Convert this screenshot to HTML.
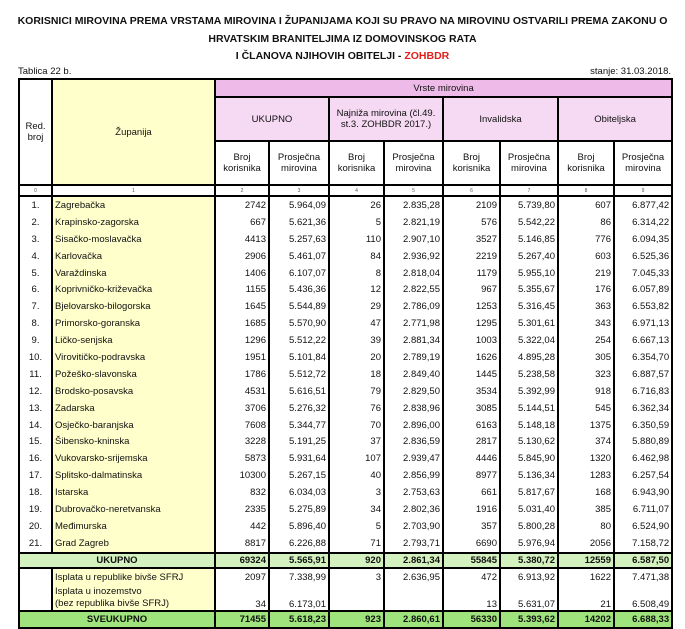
<!DOCTYPE html>
<html><head><meta charset="utf-8"><style>
body{margin:0;width:685px;height:628px;background:#fff;font-family:"Liberation Sans",sans-serif;position:relative;overflow:hidden;color:#111}
.t{position:absolute;left:0;width:685px;text-align:center;font-weight:bold;font-size:10.5px}
.s{position:absolute;font-size:9.5px}
table{position:absolute;left:18px;top:78px;width:653px;border-collapse:collapse;table-layout:fixed;font-size:9.5px}
td{border:2px solid #000;padding:0 2px;text-align:center;line-height:11px;overflow:hidden;white-space:nowrap}
tr.d td{border-top:0;border-bottom:0;text-align:right;height:16.9px;padding:0 2px}
tr.d td.n{text-align:center}
tr.d td.z{text-align:left;background:#ffffcc}
.p1{background:#eebbe9}.p2{background:#f6d9f3}
.z{background:#ffffcc}
tr.u td{background:#d4f2bf;font-weight:bold;text-align:right}
tr.v td{background:#9ee37c;font-weight:bold;text-align:right}
tr.u td.c,tr.v td.c{text-align:center}
.ix td{font-size:5px;line-height:6px;height:9px;color:#555}
</style></head><body>
<div class="t" style="top:15px">KORISNICI MIROVINA PREMA VRSTAMA MIROVINA I ŽUPANIJAMA KOJI SU PRAVO NA MIROVINU OSTVARILI PREMA ZAKONU O</div>
<div class="t" style="top:33px">HRVATSKIM BRANITELJIMA IZ DOMOVINSKOG RATA</div>
<div class="t" style="top:50px">I ČLANOVA NJIHOVIH OBITELJI - <span style="color:#e0201b">ZOHBDR</span></div>
<div class="s" style="left:18px;top:66px">Tablica 22 b.</div>
<div class="s" style="right:14px;top:66px">stanje: 31.03.2018.</div>
<table>
<colgroup><col style="width:33px"><col style="width:163px"><col style="width:54px"><col style="width:60px"><col style="width:55px"><col style="width:59px"><col style="width:57px"><col style="width:58px"><col style="width:56px"><col style="width:58px"></colgroup>
<tr style="height:18px"><td rowspan="3">Red.<br>broj</td><td rowspan="3" class="z">Županija</td><td colspan="8" class="p1">Vrste mirovina</td></tr>
<tr style="height:44px"><td colspan="2" class="p2">UKUPNO</td><td colspan="2" class="p2">Najniža mirovina (čl.49.<br>st.3. ZOHBDR 2017.)</td><td colspan="2" class="p2">Invalidska</td><td colspan="2" class="p2">Obiteljska</td></tr>
<tr style="height:44px"><td>Broj<br>korisnika</td><td>Prosječna<br>mirovina</td><td>Broj<br>korisnika</td><td>Prosječna<br>mirovina</td><td>Broj<br>korisnika</td><td>Prosječna<br>mirovina</td><td>Broj<br>korisnika</td><td>Prosječna<br>mirovina</td></tr>
<tr class="ix"><td>0</td><td>1</td><td>2</td><td>3</td><td>4</td><td>5</td><td>6</td><td>7</td><td>8</td><td>9</td></tr>
<tr class="d"><td class="n">1.</td><td class="z">Zagrebačka</td><td>2742</td><td>5.964,09</td><td>26</td><td>2.835,28</td><td>2109</td><td>5.739,80</td><td>607</td><td>6.877,42</td></tr>
<tr class="d"><td class="n">2.</td><td class="z">Krapinsko-zagorska</td><td>667</td><td>5.621,36</td><td>5</td><td>2.821,19</td><td>576</td><td>5.542,22</td><td>86</td><td>6.314,22</td></tr>
<tr class="d"><td class="n">3.</td><td class="z">Sisačko-moslavačka</td><td>4413</td><td>5.257,63</td><td>110</td><td>2.907,10</td><td>3527</td><td>5.146,85</td><td>776</td><td>6.094,35</td></tr>
<tr class="d"><td class="n">4.</td><td class="z">Karlovačka</td><td>2906</td><td>5.461,07</td><td>84</td><td>2.936,92</td><td>2219</td><td>5.267,40</td><td>603</td><td>6.525,36</td></tr>
<tr class="d"><td class="n">5.</td><td class="z">Varaždinska</td><td>1406</td><td>6.107,07</td><td>8</td><td>2.818,04</td><td>1179</td><td>5.955,10</td><td>219</td><td>7.045,33</td></tr>
<tr class="d"><td class="n">6.</td><td class="z">Koprivničko-križevačka</td><td>1155</td><td>5.436,36</td><td>12</td><td>2.822,55</td><td>967</td><td>5.355,67</td><td>176</td><td>6.057,89</td></tr>
<tr class="d"><td class="n">7.</td><td class="z">Bjelovarsko-bilogorska</td><td>1645</td><td>5.544,89</td><td>29</td><td>2.786,09</td><td>1253</td><td>5.316,45</td><td>363</td><td>6.553,82</td></tr>
<tr class="d"><td class="n">8.</td><td class="z">Primorsko-goranska</td><td>1685</td><td>5.570,90</td><td>47</td><td>2.771,98</td><td>1295</td><td>5.301,61</td><td>343</td><td>6.971,13</td></tr>
<tr class="d"><td class="n">9.</td><td class="z">Ličko-senjska</td><td>1296</td><td>5.512,22</td><td>39</td><td>2.881,34</td><td>1003</td><td>5.322,04</td><td>254</td><td>6.667,13</td></tr>
<tr class="d"><td class="n">10.</td><td class="z">Virovitičko-podravska</td><td>1951</td><td>5.101,84</td><td>20</td><td>2.789,19</td><td>1626</td><td>4.895,28</td><td>305</td><td>6.354,70</td></tr>
<tr class="d"><td class="n">11.</td><td class="z">Požeško-slavonska</td><td>1786</td><td>5.512,72</td><td>18</td><td>2.849,40</td><td>1445</td><td>5.238,58</td><td>323</td><td>6.887,57</td></tr>
<tr class="d"><td class="n">12.</td><td class="z">Brodsko-posavska</td><td>4531</td><td>5.616,51</td><td>79</td><td>2.829,50</td><td>3534</td><td>5.392,99</td><td>918</td><td>6.716,83</td></tr>
<tr class="d"><td class="n">13.</td><td class="z">Zadarska</td><td>3706</td><td>5.276,32</td><td>76</td><td>2.838,96</td><td>3085</td><td>5.144,51</td><td>545</td><td>6.362,34</td></tr>
<tr class="d"><td class="n">14.</td><td class="z">Osječko-baranjska</td><td>7608</td><td>5.344,77</td><td>70</td><td>2.896,00</td><td>6163</td><td>5.148,18</td><td>1375</td><td>6.350,59</td></tr>
<tr class="d"><td class="n">15.</td><td class="z">Šibensko-kninska</td><td>3228</td><td>5.191,25</td><td>37</td><td>2.836,59</td><td>2817</td><td>5.130,62</td><td>374</td><td>5.880,89</td></tr>
<tr class="d"><td class="n">16.</td><td class="z">Vukovarsko-srijemska</td><td>5873</td><td>5.931,64</td><td>107</td><td>2.939,47</td><td>4446</td><td>5.845,90</td><td>1320</td><td>6.462,98</td></tr>
<tr class="d"><td class="n">17.</td><td class="z">Splitsko-dalmatinska</td><td>10300</td><td>5.267,15</td><td>40</td><td>2.856,99</td><td>8977</td><td>5.136,34</td><td>1283</td><td>6.257,54</td></tr>
<tr class="d"><td class="n">18.</td><td class="z">Istarska</td><td>832</td><td>6.034,03</td><td>3</td><td>2.753,63</td><td>661</td><td>5.817,67</td><td>168</td><td>6.943,90</td></tr>
<tr class="d"><td class="n">19.</td><td class="z">Dubrovačko-neretvanska</td><td>2335</td><td>5.275,89</td><td>34</td><td>2.802,36</td><td>1916</td><td>5.031,40</td><td>385</td><td>6.711,07</td></tr>
<tr class="d"><td class="n">20.</td><td class="z">Međimurska</td><td>442</td><td>5.896,40</td><td>5</td><td>2.703,90</td><td>357</td><td>5.800,28</td><td>80</td><td>6.524,90</td></tr>
<tr class="d"><td class="n">21.</td><td class="z">Grad Zagreb</td><td>8817</td><td>6.226,88</td><td>71</td><td>2.793,71</td><td>6690</td><td>5.976,94</td><td>2056</td><td>7.158,72</td></tr>
<tr class="u" style="height:15px"><td colspan="2" class="c">UKUPNO</td><td>69324</td><td>5.565,91</td><td>920</td><td>2.861,34</td><td>55845</td><td>5.380,72</td><td>12559</td><td>6.587,50</td></tr>
<tr class="d"><td></td><td class="z">Isplata u republike bivše SFRJ</td><td>2097</td><td>7.338,99</td><td>3</td><td>2.636,95</td><td>472</td><td>6.913,92</td><td>1622</td><td>7.471,38</td></tr>
<tr class="d" style="height:25px"><td></td><td class="z" style="vertical-align:bottom;line-height:12px">Isplata u inozemstvo<br>(bez republika bivše SFRJ)</td><td style="vertical-align:bottom">34</td><td style="vertical-align:bottom">6.173,01</td><td></td><td></td><td style="vertical-align:bottom">13</td><td style="vertical-align:bottom">5.631,07</td><td style="vertical-align:bottom">21</td><td style="vertical-align:bottom">6.508,49</td></tr>
<tr class="v" style="height:17px"><td colspan="2" class="c">SVEUKUPNO</td><td>71455</td><td>5.618,23</td><td>923</td><td>2.860,61</td><td>56330</td><td>5.393,62</td><td>14202</td><td>6.688,33</td></tr>
</table>
</body></html>
